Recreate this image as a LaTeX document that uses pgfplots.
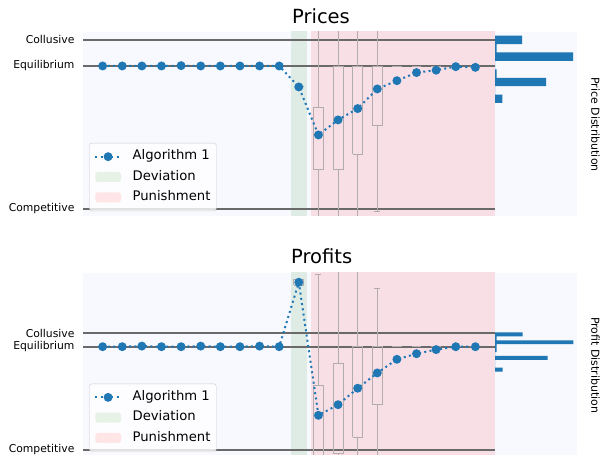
\documentclass[border=0pt]{standalone}
\usepackage{fontspec}
\setmainfont{DejaVu Sans}
\usepackage{pgfplots}
\pgfplotsset{compat=1.18}
\definecolor{bgc}{HTML}{F8F8FF}
\definecolor{devc}{HTML}{DFECE6}
\definecolor{punc}{HTML}{F8DEE5}
\definecolor{devl}{HTML}{E5F2E5}
\definecolor{punl}{HTML}{FFE5E5}
\definecolor{hl}{HTML}{6A6A6A}
\definecolor{boxc}{HTML}{B2ACAF}
\definecolor{tblue}{HTML}{1F77B4}
\definecolor{legd}{HTML}{CCCCCC}
\pgfplotsset{
  mainax/.style={scale only axis, width=412pt, xmin=-1, xmax=20, xtick=\empty,
    axis line style={draw=none}, axis background/.style={fill=bgc},
    major tick length=0pt, clip=true, unbounded coords=jump,
    yticklabel style={font=\fontsize{10.8}{12}\selectfont, xshift=-5pt},
    legend cell align=left,
    legend style={anchor=south west, font=\fontsize{13.2}{15}\selectfont,
      draw=legd, rounded corners=2.5pt, fill=white, fill opacity=0.8, text opacity=1,
      inner xsep=4.8pt, inner ysep=5.8pt, row sep=4.8pt,
      nodes={inner sep=1pt, text height=10pt, text depth=3.5pt},
      /tikz/every odd column/.append style={column sep=9.6pt}}},
  histax/.style={scale only axis, width=82pt, xmin=0, xmax=82, xtick=\empty, ytick=\empty,
    axis line style={draw=none}, axis background/.style={fill=bgc}, major tick length=0pt},
  algo/.style={tblue, line width=2pt, dash pattern=on 2pt off 3.3pt,
    mark=*, mark size=3.4pt, mark options={solid, fill=tblue, draw=none}},
  hline/.style={hl, line width=1.8pt, forget plot},
  bx/.style={boxc, line width=0.9pt, solid, mark=none, forget plot},
  hbar/.style={xbar, bar shift=0pt, fill=tblue, draw=none, forget plot},
  lineleg/.style={legend image code/.code={\draw[mark repeat=2,mark phase=2,opacity=1,##1] plot coordinates {(0pt,0pt) (12.8pt,0pt) (25.7pt,0pt)};}},
  arealeg/.style={legend image code/.code={\fill[opacity=1,##1,draw=none] (0pt,-5pt) rectangle (25.7pt,5pt);}},
}
\begin{document}
\begin{tikzpicture}
\useasboundingbox (0pt,0pt) rectangle (602pt,455pt);
% ---------------- Prices ----------------
\begin{axis}[mainax, at={(83pt,239pt)}, anchor=south west, height=184pt,
  ymin=-0.0414, ymax=1.047, ytick={0,0.846,1},
  yticklabels={Competitive,Equilibrium,Collusive},
  legend style={at={(0.0153,0.027)}}]
\addlegendimage{algo, lineleg}\addlegendentry{Algorithm 1}
\addlegendimage{arealeg, fill=devl}\addlegendentry{Deviation}
\addlegendimage{arealeg, fill=punl}\addlegendentry{Punishment}
\addplot[fill=devc, draw=none, forget plot] coordinates {(9.6,-1) (9.6,2) (10.4,2) (10.4,-1)} -- cycle;
\addplot[fill=punc, draw=none, forget plot] coordinates {(10.6,-1) (10.6,2) (20,2) (20,-1)} -- cycle;
\addplot[hline] coordinates {(-1,1) (20,1)};
\addplot[hline] coordinates {(-1,0.846) (20,0.846)};
\addplot[hline] coordinates {(-1,0) (20,0)};
% box plots (box outline, whiskers, caps)
\addplot[bx] coordinates {(9.75,0.722) (10.25,0.722)};
\addplot[bx] coordinates {(10.75,0.231) (11.25,0.231) (11.25,0.598) (10.75,0.598) (10.75,0.231)
  (nan,nan) (11,0.598) (11,1.3) (nan,nan) (11,0.231) (11,-0.3)};
\addplot[bx] coordinates {(11.75,0.231) (12.25,0.231) (12.25,0.846) (11.75,0.846) (11.75,0.231)
  (nan,nan) (12,0.846) (12,1.3) (nan,nan) (12,0.231) (12,-0.3)};
\addplot[bx] coordinates {(12.75,0.325) (13.25,0.325) (13.25,0.846) (12.75,0.846) (12.75,0.325)
  (nan,nan) (13,0.846) (13,1.3) (nan,nan) (13,0.325) (13,-0.3)};
\addplot[bx] coordinates {(13.75,0.497) (14.25,0.497) (14.25,0.846) (13.75,0.846) (13.75,0.497)
  (nan,nan) (14,0.846) (14,1.3) (nan,nan) (14,0.497) (14,-0.012) (nan,nan) (13.85,-0.012) (14.15,-0.012)};
\addplot[bx] coordinates {(14.75,0.846) (15.25,0.846) (nan,nan) (15.75,0.846) (16.25,0.846)
  (nan,nan) (16.75,0.846) (17.25,0.846) (nan,nan) (17.75,0.846) (18.25,0.846) (nan,nan) (18.75,0.846) (19.25,0.846)};
\addplot[algo, forget plot] coordinates {
 (0,0.846) (1,0.846) (2,0.846) (3,0.846) (4,0.848) (5,0.846) (6,0.846) (7,0.846) (8,0.846) (9,0.846)
 (10,0.722) (11,0.438) (12,0.527) (13,0.594) (14,0.710) (15,0.759) (16,0.807) (17,0.821) (18,0.842) (19,0.838)};
\end{axis}
\begin{axis}[histax, at={(495pt,239pt)}, anchor=south west, height=184pt,
  ymin=-0.0414, ymax=1.047]
\addplot[hbar, bar width=0.0497] coordinates {
 (27,1.000) (1.5,0.950) (78,0.901) (0,0.851) (1.5,0.801) (51,0.751) (0,0.702) (7.3,0.652)};
\end{axis}
% ---------------- Profits ----------------
\begin{axis}[mainax, at={(83pt,0pt)}, anchor=south west, height=182.3pt,
  ymin=-0.043, ymax=1.519, ytick={0,0.885,1},
  yticklabels={Competitive,Equilibrium,Collusive},
  legend style={at={(0.0153,0.018)}}]
\addlegendimage{algo, lineleg}\addlegendentry{Algorithm 1}
\addlegendimage{arealeg, fill=devl}\addlegendentry{Deviation}
\addlegendimage{arealeg, fill=punl}\addlegendentry{Punishment}
\addplot[fill=devc, draw=none, forget plot] coordinates {(9.6,-1) (9.6,2) (10.4,2) (10.4,-1)} -- cycle;
\addplot[fill=punc, draw=none, forget plot] coordinates {(10.6,-1) (10.6,2) (20,2) (20,-1)} -- cycle;
\addplot[hline] coordinates {(-1,1) (20,1)};
\addplot[hline] coordinates {(-1,0.885) (20,0.885)};
\addplot[hline] coordinates {(-1,0) (20,0)};
\addplot[bx] coordinates {(9.75,1.414) (10.25,1.414) (10.25,1.465) (9.75,1.465) (9.75,1.414)};
\addplot[bx] coordinates {(10.75,-0.2) (11.25,-0.2) (11.25,0.551) (10.75,0.551) (10.75,-0.2)
  (nan,nan) (11,0.551) (11,1.506) (nan,nan) (10.85,1.506) (11.15,1.506)};
\addplot[bx] coordinates {(11.75,-0.028) (12.25,-0.028) (12.25,0.743) (11.75,0.743) (11.75,-0.028)
  (nan,nan) (12,0.743) (12,1.8) (nan,nan) (12,-0.028) (12,-0.4)};
\addplot[bx] coordinates {(12.75,0.111) (13.25,0.111) (13.25,0.885) (12.75,0.885) (12.75,0.111)
  (nan,nan) (13,0.885) (13,1.8) (nan,nan) (13,0.111) (13,-0.4)};
\addplot[bx] coordinates {(13.75,0.386) (14.25,0.386) (14.25,0.885) (13.75,0.885) (13.75,0.386)
  (nan,nan) (14,0.885) (14,1.380) (nan,nan) (13.85,1.380) (14.15,1.380) (nan,nan) (14,0.386) (14,-0.4)};
\addplot[bx] coordinates {(14.75,0.885) (15.25,0.885) (nan,nan) (15.75,0.885) (16.25,0.885)
  (nan,nan) (16.75,0.885) (17.25,0.885) (nan,nan) (17.75,0.885) (18.25,0.885) (nan,nan) (18.75,0.885) (19.25,0.885)};
\addplot[algo, forget plot] coordinates {
 (0,0.885) (1,0.885) (2,0.890) (3,0.885) (4,0.885) (5,0.890) (6,0.885) (7,0.885) (8,0.890) (9,0.885)
 (10,1.437) (11,0.297) (12,0.388) (13,0.529) (14,0.660) (15,0.777) (16,0.825) (17,0.860) (18,0.885) (19,0.885)};
\end{axis}
\begin{axis}[histax, at={(495pt,0pt)}, anchor=south west, height=182.3pt,
  ymin=-0.043, ymax=1.519]
\addplot[hbar, bar width=0.0334] coordinates {
 (27.7,0.990) (1.5,0.956) (78.3,0.923) (1.5,0.889) (1.5,0.856) (0,0.823) (52.7,0.789) (0,0.756) (0,0.722) (7.7,0.689)};
\end{axis}
% titles and side labels
\node[anchor=base, font=\fontsize{19.5}{22}\selectfont] at (321pt,431.7pt) {Prices};
\node[anchor=base, font=\fontsize{19.5}{22}\selectfont] at (321.7pt,191pt) {Profits};
\node[rotate=-90, font=\fontsize{11}{13}\selectfont] at (595.5pt,330.5pt) {Price Distribution};
\node[rotate=-90, font=\fontsize{11}{13}\selectfont] at (595.5pt,89.7pt) {Profit Distribution};
\end{tikzpicture}
\end{document}
